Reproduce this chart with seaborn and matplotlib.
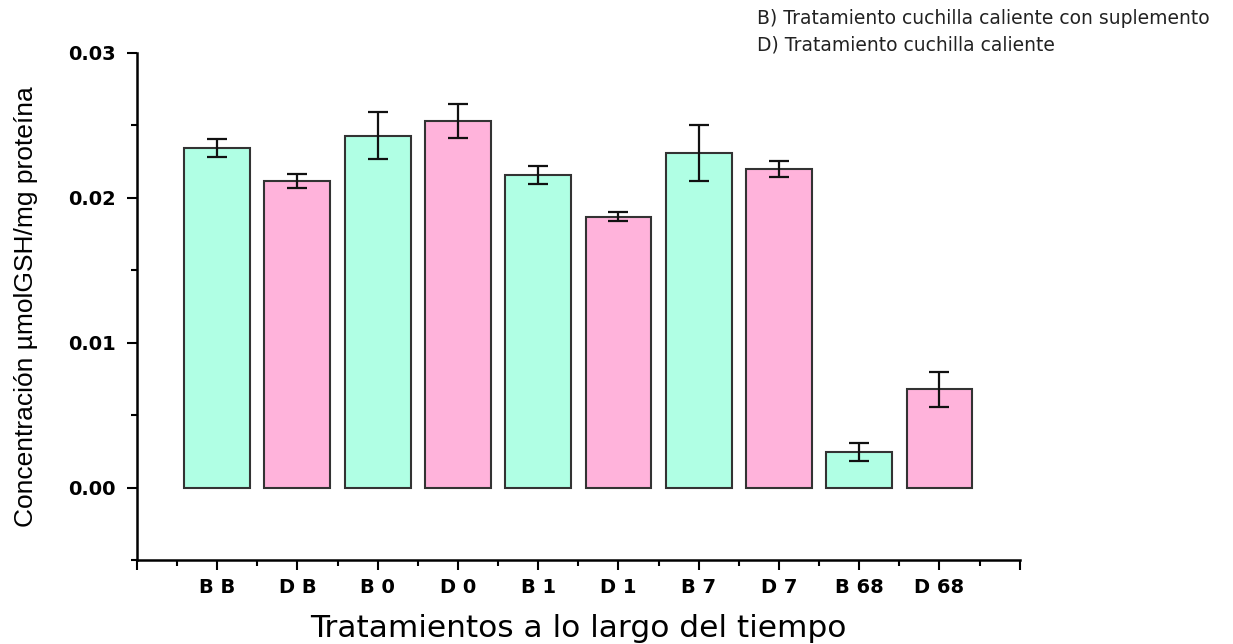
import numpy as np
import pandas as pd
import matplotlib
matplotlib.use('Agg')
import matplotlib.pyplot as plt
import seaborn as sns
from matplotlib.ticker import MultipleLocator

# data
labels = ["B B", "D B", "B 0", "D 0", "B 1", "D 1", "B 7", "D 7", "B 68", "D 68"]
groups = ["B", "D", "B", "D", "B", "D", "B", "D", "B", "D"]
values = [0.02345, 0.02117, 0.02428, 0.02530, 0.02157, 0.01871, 0.02310, 0.02200, 0.00246, 0.00680]
errors = [0.00062, 0.00050, 0.00163, 0.00118, 0.00059, 0.00028, 0.00193, 0.00054, 0.00062, 0.00120]

legend_lines = ["B) Tratamiento cuchilla caliente con suplemento",
                "D) Tratamiento cuchilla caliente"]

sns.set_style("ticks")
plt.rcParams['font.family'] = ['DejaVu Sans']
plt.rcParams['text.color'] = 'black'
plt.rcParams['axes.labelcolor'] = 'black'

df = pd.DataFrame({"label": labels, "group": groups, "value": values, "err": errors})

fig = plt.figure(figsize=(12.33, 6.44), dpi=100)
ax = fig.add_axes([0.111, 0.130, 0.716, 0.788])

sns.barplot(data=df, x="label", y="value", hue="group", dodge=False,
            palette={"B": "#b0ffe4", "D": "#ffb3db"}, saturation=1, width=0.82,
            edgecolor="#333333", linewidth=1.5, errorbar=None, legend=False, ax=ax)
ax.errorbar(np.arange(len(values)), df["value"], yerr=df["err"], fmt="none",
            ecolor="#111111", elinewidth=1.6, capsize=7, capthick=1.6)

ax.set_xlim(-1, 10)
ax.set_ylim(-0.005, 0.03)
ax.set_xticks(np.arange(-1, 11))
ax.set_xticklabels([""] + labels + [""], fontsize=14, fontweight="bold")
ax.xaxis.set_minor_locator(MultipleLocator(0.5))
ax.set_yticks([0.0, 0.01, 0.02, 0.03])
ax.set_yticklabels(["0.00", "0.01", "0.02", "0.03"], fontsize=14, fontweight="bold")
ax.yaxis.set_minor_locator(MultipleLocator(0.005))
ax.tick_params(axis="both", which="major", length=7, width=1.5, direction="out", colors="black")
ax.tick_params(axis="both", which="minor", length=4, width=1.5, direction="out", colors="black")
ax.tick_params(axis="x", pad=6)
ax.tick_params(axis="y", pad=8)

for s in ["top", "right"]:
    ax.spines[s].set_visible(False)
for s in ["left", "bottom"]:
    ax.spines[s].set_linewidth(1.8)
    ax.spines[s].set_color("black")

ax.set_xlabel("Tratamientos a lo largo del tiempo", fontsize=22.5, labelpad=12)
ax.set_ylabel("Concentración µmolGSH/mg proteína", fontsize=19, labelpad=22,
              family=["Liberation Sans", "DejaVu Sans"])

fig.text(0.614, 0.972, legend_lines[0], fontsize=13.5, color="#222222", va="center")
fig.text(0.614, 0.930, legend_lines[1], fontsize=13.5, color="#222222", va="center")

fig.savefig("out.png", dpi=100)
